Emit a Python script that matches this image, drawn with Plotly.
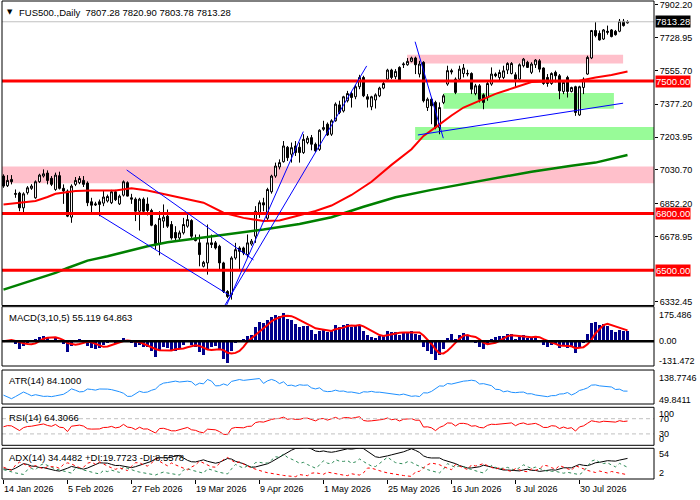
import numpy as np
import pandas as pd
import plotly.graph_objects as go

# ---- values (one entry per daily bar) ----
header_text = "FUS500.,Daily  7807.28 7820.90 7803.78 7813.28"
date_labels = ["14 Jan 2026", "5 Feb 2026", "27 Feb 2026", "19 Mar 2026", "9 Apr 2026",
               "1 May 2026", "25 May 2026", "16 Jun 2026", "8 Jul 2026", "30 Jul 2026"]
date_label_bars = [0, 16, 32, 48, 64, 80, 96, 112, 128, 144]

opens = [6998, 6947, 6980, 6906, 6908, 6830, 6910, 6933, 6883, 6968,
         6998, 7014, 6986, 6927, 7000, 6933, 6919, 6781, 6954, 6963,
         6975, 6961, 6862, 6851, 6862, 6855, 6866, 6857, 6915, 6851,
         6897, 6963, 6883, 6876, 6812, 6876, 6850, 6816, 6738, 6640,
         6760, 6786, 6742, 6700, 6671, 6698, 6733, 6763, 6671, 6645,
         6521, 6539, 6645, 6645, 6627, 6539, 6388, 6371, 6565, 6618,
         6618, 6583, 6639, 6680, 6804, 6857, 6775, 6915, 6998, 7046,
         7074, 7150, 7113, 7157, 7150, 7122, 7175, 7201, 7166, 7139,
         7245, 7272, 7219, 7290, 7374, 7342, 7396, 7434, 7417, 7470,
         7519, 7417, 7364, 7400, 7422, 7463, 7510, 7558, 7523, 7572,
         7586, 7586, 7604, 7622, 7537, 7599, 7360, 7404, 7387, 7254,
         7387, 7484, 7555, 7510, 7510, 7540, 7537, 7540, 7434, 7475,
         7427, 7413, 7484, 7537, 7519, 7519, 7558, 7540, 7533, 7510,
         7581, 7599, 7546, 7586, 7607, 7569, 7519, 7487, 7546, 7528,
         7445, 7519, 7445, 7470, 7321, 7466, 7537, 7622, 7767, 7752,
         7722, 7763, 7770, 7763, 7763, 7816, 7807.28]
highs = [7007, 7003, 7003, 6927, 6915, 6912, 6945, 6955, 6975, 7010,
         7033, 7028, 6998, 7016, 7021, 6954, 6927, 6954, 6993, 6998,
         6998, 6970, 6883, 6862, 6874, 6919, 6900, 6925, 6925, 6900,
         6975, 6970, 6904, 6885, 6883, 6885, 6885, 6825, 6745, 6812,
         6848, 6821, 6760, 6733, 6710, 6777, 6804, 6770, 6689, 6689,
         6550, 6742, 6689, 6655, 6635, 6545, 6395, 6574, 6645, 6627,
         6625, 6689, 6665, 6839, 6869, 6883, 6936, 7005, 7069, 7086,
         7183, 7157, 7175, 7183, 7175, 7219, 7210, 7215, 7175, 7245,
         7290, 7281, 7298, 7387, 7396, 7422, 7448, 7445, 7479, 7533,
         7528, 7431, 7422, 7435, 7470, 7505, 7565, 7565, 7563, 7578,
         7599, 7622, 7629, 7629, 7607, 7605, 7413, 7413, 7396, 7387,
         7431, 7581, 7565, 7519, 7581, 7590, 7560, 7546, 7485, 7484,
         7435, 7502, 7572, 7545, 7560, 7581, 7599, 7600, 7546, 7593,
         7622, 7607, 7599, 7616, 7616, 7572, 7537, 7546, 7555, 7537,
         7502, 7528, 7470, 7475, 7475, 7519, 7634, 7770, 7811, 7767,
         7775, 7793, 7775, 7770, 7828, 7828, 7820.90]
lows = [6936, 6940, 6954, 6883, 6812, 6804, 6900, 6925, 6878, 6962,
        6990, 6954, 6945, 6920, 6927, 6851, 6781, 6751, 6945, 6955,
        6940, 6839, 6804, 6840, 6786, 6839, 6858, 6850, 6866, 6845,
        6890, 6890, 6851, 6760, 6710, 6800, 6790, 6733, 6609, 6579,
        6724, 6724, 6662, 6660, 6660, 6689, 6725, 6671, 6653, 6521,
        6515, 6477, 6618, 6610, 6503, 6380, 6353, 6345, 6556, 6503,
        6580, 6565, 6630, 6645, 6777, 6812, 6763, 6905, 6989, 7033,
        7069, 7078, 7069, 7104, 7069, 7115, 7166, 7134, 7125, 7131,
        7237, 7210, 7210, 7285, 7325, 7334, 7387, 7360, 7404, 7457,
        7415, 7360, 7346, 7355, 7415, 7457, 7505, 7510, 7510, 7500,
        7569, 7581, 7599, 7537, 7519, 7387, 7342, 7272, 7245, 7219,
        7378, 7475, 7535, 7431, 7505, 7519, 7525, 7431, 7425, 7387,
        7351, 7396, 7475, 7520, 7500, 7510, 7537, 7535, 7466, 7505,
        7572, 7569, 7537, 7569, 7546, 7480, 7470, 7480, 7493, 7404,
        7431, 7413, 7440, 7316, 7316, 7431, 7533, 7616, 7731, 7714,
        7717, 7745, 7731, 7740, 7758, 7788, 7803.78]
closes = [6945, 6975, 6968, 6902, 6830, 6904, 6936, 6945, 6968, 7003,
          7010, 6975, 6954, 7003, 6933, 6919, 6786, 6945, 6975, 6985,
          6954, 6857, 6844, 6846, 6848, 6887, 6890, 6915, 6873, 6892,
          6968, 6892, 6876, 6812, 6876, 6812, 6816, 6738, 6640, 6774,
          6781, 6733, 6671, 6671, 6698, 6742, 6768, 6680, 6657, 6583,
          6542, 6645, 6636, 6618, 6539, 6388, 6362, 6565, 6609, 6600,
          6592, 6645, 6654, 6812, 6857, 6845, 6927, 6998, 7051, 7069,
          7157, 7095, 7148, 7122, 7122, 7192, 7198, 7166, 7131, 7240,
          7254, 7215, 7290, 7378, 7334, 7417, 7434, 7413, 7470, 7519,
          7422, 7404, 7417, 7427, 7463, 7487, 7558, 7519, 7551, 7505,
          7590, 7604, 7622, 7586, 7590, 7396, 7404, 7369, 7254, 7360,
          7422, 7555, 7548, 7440, 7563, 7569, 7540, 7457, 7475, 7404,
          7387, 7487, 7537, 7528, 7545, 7554, 7593, 7593, 7510, 7586,
          7616, 7572, 7590, 7611, 7563, 7487, 7487, 7540, 7528, 7448,
          7493, 7445, 7466, 7334, 7470, 7510, 7625, 7767, 7740, 7717,
          7770, 7758, 7735, 7745, 7816, 7793, 7813.28]

# moving averages, read at selected bars
red_ma_bars = [0, 4, 8, 11, 13, 18, 22, 28, 32, 36, 40, 45, 50, 55, 60, 65, 69, 74, 78,
               82, 87, 92, 97, 102, 105, 108, 112, 115, 119, 123, 128, 132, 136, 140,
               144, 148, 152, 156]
red_ma_vals = [6848, 6857, 6866, 6887, 6904, 6919, 6922, 6922, 6933, 6922, 6904, 6883,
               6857, 6804, 6777, 6760, 6763, 6791, 6813, 6842, 6898, 6968, 7057, 7140,
               7210, 7255, 7318, 7360, 7397, 7432, 7467, 7495, 7497, 7499, 7502, 7519,
               7532, 7551]
green_ma_bars = [0, 8, 13, 16, 21, 26, 31, 36, 41, 49, 57, 65, 74, 82, 90, 98, 107, 115,
                 123, 132, 142, 148, 156]
green_ma_vals = [6398, 6451, 6486, 6512, 6551, 6574, 6601, 6627, 6648, 6671, 6692, 6715,
                 6745, 6780, 6836, 6886, 6925, 6956, 6986, 7021, 7053, 7069, 7109]

# horizontal levels, bid, zones and trend lines
levels = [7500, 6800, 6500]
bid = 7813.28
zone_start = [100.9, 110.0, 102.9, None]
zone_end = [154.9, 152.6, None, None]
zone_low = [7593, 7353, 7189, 6960]
zone_high = [7639, 7437, 7257, 7048]
zone_colors = ["#FFC0CB", "#98FB98", "#98FB98", "#FFC0CB"]
trend_x0 = [30.8, 23.95, 55.8, 55.4, 102.9, 103.6]
trend_y0 = [7030, 6792, 6317, 6317, 7708, 7215]
trend_x1 = [62.5, 57.0, 74.95, 90.8, 109.95, 154.9]
trend_y1 = [6555, 6361, 7233, 7580, 7198, 7383]

price_ticks = [7902.20, 7728.95, 7555.70, 7377.20, 7203.95, 7030.70, 6852.20, 6678.95, 6332.45]


def seeded_smooth(values, alpha, seed_len=14):
    # recursive smoothing; the first value is seeded with the mean of the first bars
    v = np.asarray(values, dtype=float)
    out = np.empty_like(v)
    out[0] = np.nanmean(v[1:seed_len + 1])
    for i in range(1, len(v)):
        out[i] = out[i - 1] + alpha * (v[i] - out[i - 1])
    return out


# ---- indicators computed from the bars (MT4 style) ----
bars = list(range(len(closes)))
c = pd.Series(closes, dtype=float)
h = pd.Series(highs, dtype=float)
lo = pd.Series(lows, dtype=float)

macd = c.ewm(span=3, adjust=False).mean() - c.ewm(span=10, adjust=False).mean()
macd_signal = macd.rolling(5, min_periods=1).mean()

prev_c = c.shift(1).fillna(c)
tr = pd.concat([h - lo, (h - prev_c).abs(), (lo - prev_c).abs()], axis=1).max(axis=1)
atr = tr.rolling(14, min_periods=1).mean()

delta = c.diff().fillna(0)
avg_gain = seeded_smooth(delta.clip(lower=0), 1 / 14)
avg_loss = seeded_smooth((-delta).clip(lower=0), 1 / 14)
rsi = 100 - 100 / (1 + avg_gain / avg_loss)

up = h.diff().fillna(0).clip(lower=0)
dn = (-lo.diff().fillna(0)).clip(lower=0)
pdm = np.where(up > dn, up, 0.0)
mdm = np.where(dn > up, dn, 0.0)
plus_di = seeded_smooth(100 * pdm / tr, 2 / 15)
minus_di = seeded_smooth(100 * mdm / tr, 2 / 15)
dx = 100 * np.abs(plus_di - minus_di) / (plus_di + minus_di)
adx = seeded_smooth(dx, 2 / 15)

# ---- figure ----
FONT = "Liberation Sans"
x_range = [-0.375, 162.625]
domains = {
    "y": [0.363, 1.0],
    "y2": [0.2364, 0.3605],
    "y3": [0.1569, 0.228],
    "y4": [0.0705, 0.15],
    "y5": [0.0, 0.0642],
}

fig = go.Figure()
fig.add_trace(go.Candlestick(
    x=bars, open=opens, high=highs, low=lows, close=closes,
    increasing=dict(line=dict(color="black", width=1), fillcolor="white"),
    decreasing=dict(line=dict(color="black", width=1), fillcolor="black"),
    whiskerwidth=0, xaxis="x", yaxis="y", showlegend=False,
))
fig.add_trace(go.Scatter(x=green_ma_bars, y=green_ma_vals, mode="lines",
                         line=dict(color="#008000", width=2.5), yaxis="y", showlegend=False))
fig.add_trace(go.Scatter(x=red_ma_bars, y=red_ma_vals, mode="lines",
                         line=dict(color="red", width=2), yaxis="y", showlegend=False))

fig.add_trace(go.Bar(x=bars, y=macd, marker=dict(color="#00008B", line=dict(width=0)),
                     width=0.6, yaxis="y2", showlegend=False))
fig.add_trace(go.Scatter(x=bars, y=macd_signal, mode="lines",
                         line=dict(color="red", width=2), yaxis="y2", showlegend=False))
fig.add_trace(go.Scatter(x=bars, y=atr, mode="lines",
                         line=dict(color="#1E90FF", width=1), yaxis="y3", showlegend=False))
fig.add_trace(go.Scatter(x=bars, y=rsi, mode="lines",
                         line=dict(color="red", width=1), yaxis="y4", showlegend=False))
fig.add_trace(go.Scatter(x=bars, y=adx, mode="lines",
                         line=dict(color="black", width=1), yaxis="y5", showlegend=False))
fig.add_trace(go.Scatter(x=bars, y=plus_di, mode="lines",
                         line=dict(color="#2E8B57", width=1, dash="3px,3px"), yaxis="y5",
                         showlegend=False))
fig.add_trace(go.Scatter(x=bars, y=minus_di, mode="lines",
                         line=dict(color="red", width=1, dash="3px,3px"), yaxis="y5",
                         showlegend=False))

shapes = []
for x0, x1, y0, y1, col in zip(zone_start, zone_end, zone_low, zone_high, zone_colors):
    shapes.append(dict(type="rect", xref="x", yref="y", layer="below", line=dict(width=0),
                       fillcolor=col,
                       x0=x_range[0] if x0 is None else x0,
                       x1=x_range[1] if x1 is None else x1, y0=y0, y1=y1))
shapes.append(dict(type="line", xref="paper", yref="y", x0=0, x1=1, y0=bid, y1=bid,
                   line=dict(color="#C0C0C0", width=1), layer="above"))
for lv in levels:
    shapes.append(dict(type="line", xref="paper", yref="y", x0=0, x1=1, y0=lv, y1=lv,
                       line=dict(color="red", width=3), layer="above"))
for x0, y0, x1, y1 in zip(trend_x0, trend_y0, trend_x1, trend_y1):
    shapes.append(dict(type="line", xref="x", yref="y", x0=x0, y0=y0, x1=x1, y1=y1,
                       line=dict(color="blue", width=1), layer="above"))
shapes.append(dict(type="line", xref="paper", yref="y2", x0=0, x1=1, y0=0, y1=0,
                   line=dict(color="black", width=2.5), layer="above"))
for lv in (70, 30):
    shapes.append(dict(type="line", xref="paper", yref="y4", x0=0, x1=1, y0=lv, y1=lv,
                       line=dict(color="#C0C0C0", width=1, dash="4px,3px"), layer="above"))
for ax in domains:
    shapes.append(dict(type="rect", xref="paper", yref=f"{ax} domain", x0=0, x1=1, y0=0,
                       y1=1, line=dict(color="black", width=1), layer="above"))

annotations = [
    dict(text="▼", xref="paper", yref="paper", x=0, y=1, xanchor="left", yanchor="top",
         xshift=3, yshift=-5, showarrow=False, font=dict(family="DejaVu Sans", size=7)),
    dict(text=header_text, xref="paper", yref="paper", x=0, y=1, xanchor="left",
         yanchor="top", xshift=15, yshift=-4, showarrow=False,
         font=dict(family=FONT, size=9.5, color="black")),
]
panel_titles = [("y2 domain", "MACD(3,10,5) 55.119 64.863", -3),
                ("y3 domain", "ATR(14) 84.1000", -3),
                ("y4 domain", "RSI(14) 64.3066", -3),
                ("y5 domain", "ADX(14) 34.4482 +DI:19.7723 -DI:8.5578", -2)]
for ref, txt, sh in panel_titles:
    annotations.append(dict(text=txt, xref="paper", yref=ref, x=0, y=1, xanchor="left",
                            yanchor="top", xshift=5, yshift=sh, showarrow=False,
                            font=dict(family=FONT, size=9.5, color="black")))

# right-hand value boxes
for lv in levels:
    annotations.append(dict(text=f"{lv:.2f}", xref="paper", yref="y", x=1, y=lv,
                            xanchor="left", yanchor="middle", xshift=1, showarrow=False,
                            bgcolor="red", borderpad=0,
                            font=dict(family=FONT, size=9.5, color="white")))
annotations.append(dict(text=f"{bid:.2f}", xref="paper", yref="y", x=1, y=bid,
                        xanchor="left", yanchor="middle", xshift=1, showarrow=False,
                        bgcolor="black", borderpad=0,
                        font=dict(family=FONT, size=9.5, color="white")))

# sub-window scale labels
side_labels = [("y2", 175.486, "175.486", -4), ("y2", 0, "0.00", 0),
               ("y2", -131.472, "-131.472", 3),
               ("y3", 138.7746, "138.7746", -7), ("y3", 49.8411, "49.8411", 3),
               ("y4", 100, "100", -7), ("y4", 70, "70", 0), ("y4", 30, "30", 0),
               ("y4", 0, "0", 6),
               ("y5", 54, "54", -5), ("y5", 2, "2", 5)]
for ref, val, txt, sh in side_labels:
    annotations.append(dict(text=txt, xref="paper", yref=ref, x=1, y=val, xanchor="left",
                            yanchor="middle", xshift=3, yshift=sh, showarrow=False,
                            font=dict(family=FONT, size=9, color="black")))

for b, txt in zip(date_label_bars, date_labels):
    annotations.append(dict(text=txt, xref="x", yref="paper", x=b, y=0, xanchor="left",
                            yanchor="top", xshift=-2, yshift=-3, showarrow=False,
                            font=dict(family=FONT, size=9, color="black")))

axis_common = dict(showgrid=False, zeroline=False, anchor="x", side="right",
                   fixedrange=True)
fig.update_layout(
    width=700, height=500,
    margin=dict(l=2, r=46, t=1, b=21),
    paper_bgcolor="white", plot_bgcolor="white",
    showlegend=False,
    font=dict(family=FONT, size=9, color="black"),
    xaxis=dict(domain=[0, 1], range=x_range, anchor="y5", showgrid=False, zeroline=False,
               showticklabels=False, ticks="outside", ticklen=4, tickcolor="black",
               tickvals=date_label_bars, rangeslider=dict(visible=False), fixedrange=True),
    yaxis=dict(domain=domains["y"], range=[6314, 7923], tickvals=price_ticks,
               ticktext=[f"{v:.2f}" for v in price_ticks], ticks="outside", ticklen=3,
               tickcolor="black", tickfont=dict(family=FONT, size=9), **axis_common),
    yaxis2=dict(domain=domains["y2"], range=[-143, 200], showticklabels=False,
                **axis_common),
    yaxis3=dict(domain=domains["y3"], range=[46, 142], showticklabels=False, **axis_common),
    yaxis4=dict(domain=domains["y4"], range=[0, 100], showticklabels=False, **axis_common),
    yaxis5=dict(domain=domains["y5"], range=[0, 56], showticklabels=False, **axis_common),
    shapes=shapes,
    annotations=annotations,
    bargap=0,
)

fig.write_html(
    "out.html",
    config={"displayModeBar": False},
    post_script="document.body.style.margin='0px';document.body.style.padding='0px';"
                "document.body.style.overflow='hidden';",
)
